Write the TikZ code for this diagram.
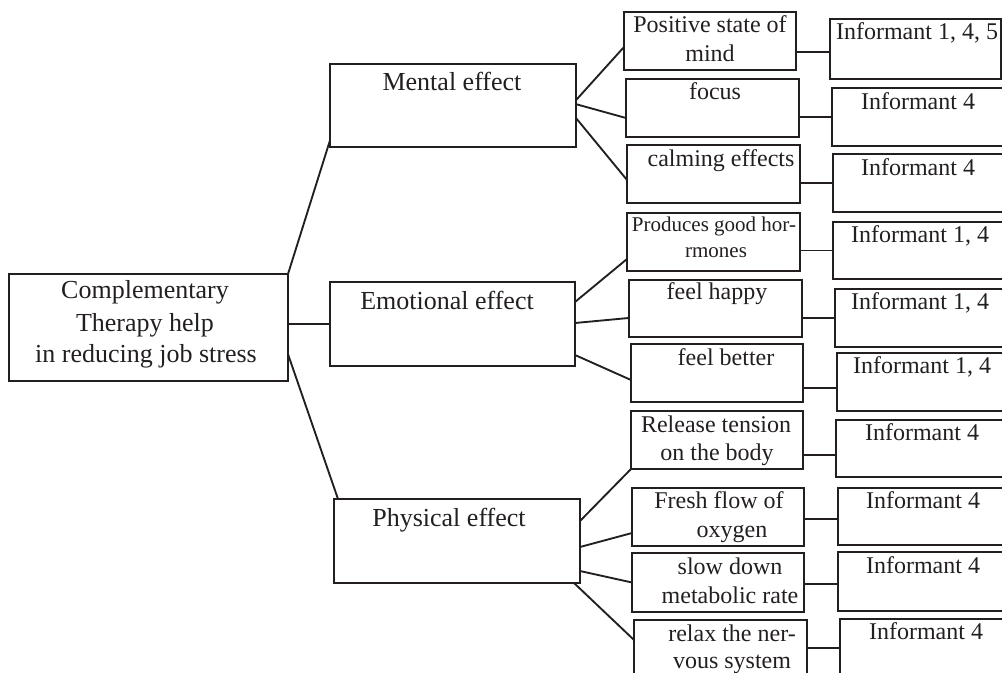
\documentclass[tikz,border=0pt]{standalone}
\usepackage{fontspec}
\setmainfont{Liberation Serif}
\usetikzlibrary{fit,calc}
\definecolor{ink}{HTML}{231F20}
\tikzset{
  box/.style={draw=ink, line width=1.4pt, inner sep=0pt, outer sep=0pt, rectangle},
  link/.style={draw=ink, line width=1.4pt},
  big/.style={font=\fontsize{19.5}{23}\selectfont, text=ink, inner sep=0pt, anchor=base},
  mid/.style={font=\fontsize{18}{21}\selectfont, text=ink, inner sep=0pt, anchor=base},
  sml/.style={font=\fontsize{15.75}{19}\selectfont, text=ink, inner sep=0pt, anchor=base},
}
\begin{document}
\begin{tikzpicture}[x=0.75pt,y=-0.75pt]
\path[use as bounding box] (0,0) rectangle (1002,673);
\clip (0,0) rectangle (1002,673);
% level 0 and 1
\node[box, fit={(9,274) (288,381)}] (R) {};
\node[box, fit={(330,64) (576,147)}] (M) {};
\node[box, fit={(330,282) (575,366)}] (E) {};
\node[box, fit={(334,499) (580,583)}] (P) {};
% level 2
\node[box, fit={(624,12) (796,70)}] (Pos) {};
\node[box, fit={(626,79) (799,137)}] (Foc) {};
\node[box, fit={(627,145) (800,203)}] (Cal) {};
\node[box, fit={(627,213) (800,271)}] (Prod) {};
\node[box, fit={(629,280) (802,337)}] (Hap) {};
\node[box, fit={(631,344) (803,402)}] (Bet) {};
\node[box, fit={(631,411) (803,469)}] (Rel) {};
\node[box, fit={(632,488) (804,546)}] (Fre) {};
\node[box, fit={(632,553) (804,612)}] (Slo) {};
\node[box, fit={(634,620) (807,677)}] (Rlx) {};
% level 3
\node[box, fit={(830,19) (1001,79)}] (I1) {};
\node[box, fit={(832,88) (1012,146)}] (I2) {};
\node[box, fit={(833,154) (1012,212)}] (I3) {};
\node[box, fit={(833,222) (1012,279)}] (I4) {};
\node[box, fit={(835,289) (1012,347)}] (I5) {};
\node[box, fit={(837,353) (1012,411)}] (I6) {};
\node[box, fit={(836,420) (1012,477)}] (I7) {};
\node[box, fit={(838,488) (1012,545)}] (I8) {};
\node[box, fit={(838,552) (1012,611)}] (I9) {};
\node[box, fit={(840,619) (1012,677)}] (I10) {};
% texts
\node[big] (Rt1) at (145,299) {Complementary};
\node[big] (Rt2) at (145,331) {Therapy help};
\node[big] (Rt3) at (146,362) {in reducing job stress};
\node[big] (Mt) at (452,91) {Mental effect};
\node[big] (Et) at (447,310) {Emotional effect};
\node[big] (Pt) at (449,526) {Physical effect};
\node[mid] (Post1) at (710,33) {Positive state of};
\node[mid] (Post2) at (710,62) {mind};
\node[mid] (Foct) at (715,100) {focus};
\node[mid] (Calt) at (721,167) {calming effects};
\node[sml] (Prodt1) at (714,232) {Produces good hor-};
\node[sml] (Prodt2) at (716,258) {rmones};
\node[mid] (Hapt) at (717,300) {feel happy};
\node[mid] (Bett) at (726,365) {feel better};
\node[mid] (Relt1) at (716,432) {Release tension};
\node[mid] (Relt2) at (717,460) {on the body};
\node[mid] (Fret1) at (719,508) {Fresh flow of};
\node[mid] (Fret2) at (732,537) {oxygen};
\node[mid] (Slot1) at (730,574) {slow down};
\node[mid] (Slot2) at (730,603) {metabolic rate};
\node[mid] (Rlxt1) at (732,641) {relax the ner-};
\node[mid] (Rlxt2) at (732,668) {vous system};
\node[mid] (I1t) at (917,40) {Informant 1, 4, 5};
\node[mid] (I2t) at (918,110) {Informant 4};
\node[mid] (I3t) at (918,176) {Informant 4};
\node[mid] (I4t) at (920,243) {Informant 1, 4};
\node[mid] (I5t) at (920,310) {Informant 1, 4};
\node[mid] (I6t) at (922,373) {Informant 1, 4};
\node[mid] (I7t) at (922,440) {Informant 4};
\node[mid] (I8t) at (923,508) {Informant 4};
\node[mid] (I9t) at (923,573) {Informant 4};
\node[mid] (I10t) at (926,639) {Informant 4};
% root links
\draw[link] (R.north east) -- ([yshift=5pt]M.south west);
\coordinate (re) at (R.east |- E.west);
\draw[link] (re) -- (E.west);
\draw[link] ([yshift=-20pt]R.east) -- ([xshift=3pt]P.north west);
% mental links
\draw[link] ([yshift=4pt]M.east) -- ([yshift=-4.5pt]Pos.west);
\draw[link] ([yshift=1pt]M.east) -- ([yshift=-7.5pt]Foc.west);
\draw[link] ([yshift=-9.4pt]M.east) -- ([yshift=-4.5pt]Cal.west);
% emotional links
\draw[link] ([yshift=16.5pt]E.east) -- ([yshift=-12.75pt]Prod.west);
\draw[link] ([yshift=0.75pt]E.east) -- ([yshift=-7.1pt]Hap.west);
\draw[link] ([yshift=-23.25pt]E.east) -- ([yshift=-5.25pt]Bet.west);
% physical links
\draw[link] ([yshift=15pt]P.east) -- (Rel.south west);
\draw[link] ([yshift=-4.5pt]P.east) -- ([yshift=-12pt]Fre.west);
\draw[link] ([yshift=-22.5pt]P.east) -- (Slo.west);
\draw[link] ([xshift=-4.5pt]P.south east) -- ([yshift=6.4pt]Rlx.west);
% horizontal links to informants
\coordinate (h1) at ([yshift=-2.25pt]I1.west);
\coordinate (h2) at (I2.west);
\coordinate (h3) at (I3.west);
\coordinate (h4) at (I4.west);
\coordinate (h5) at (I5.west);
\coordinate (h6) at ([yshift=-4.5pt]I6.west);
\coordinate (h7) at ([yshift=-4.9pt]I7.west);
\coordinate (h8) at ([yshift=-1.9pt]I8.west);
\coordinate (h9) at ([yshift=-1.9pt]I9.west);
\coordinate (h10) at (I10.west);
\draw[link] (h1 -| Pos.east) -- (h1);
\draw[link] (h2 -| Foc.east) -- (h2);
\draw[link] (h3 -| Cal.east) -- (h3);
\draw[link] (h4 -| Prod.east) -- (h4);
\draw[link] (h5 -| Hap.east) -- (h5);
\draw[link] (h6 -| Bet.east) -- (h6);
\draw[link] (h7 -| Rel.east) -- (h7);
\draw[link] (h8 -| Fre.east) -- (h8);
\draw[link] (h9 -| Slo.east) -- (h9);
\draw[link] (h10 -| Rlx.east) -- (h10);
\end{tikzpicture}
\end{document}
